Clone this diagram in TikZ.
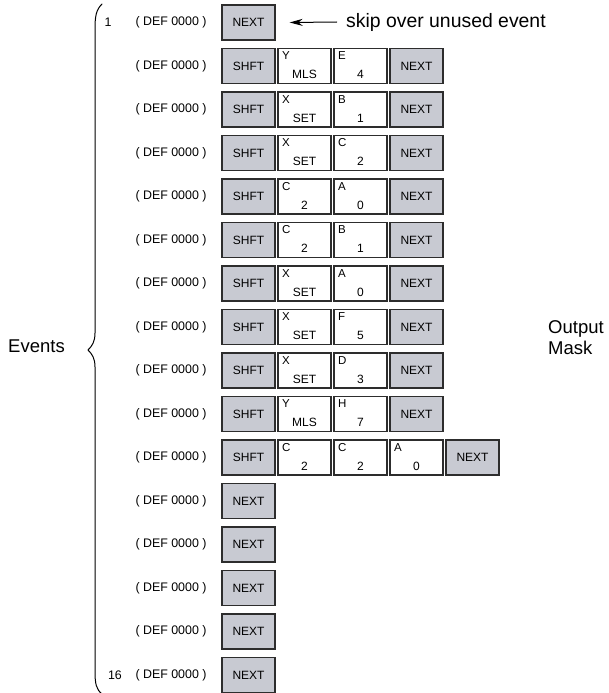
\documentclass[tikz,border=0pt]{standalone}
\usepackage{fontspec}
\setmainfont{Liberation Sans}
\usetikzlibrary{arrows.meta}
\definecolor{keygray}{RGB}{200,202,210}
\definecolor{edgegray}{RGB}{45,45,45}
\tikzset{
  keybox/.style={draw=edgegray, line width=1.3pt, fill=keygray, minimum width=53pt, minimum height=35pt, inner sep=0pt, font=\fontsize{12}{14}\selectfont},
  valbox/.style={draw=edgegray, line width=1.3pt, fill=white, minimum width=53pt, minimum height=35pt, inner sep=0pt},
  toplab/.style={anchor=west, inner sep=0pt, font=\fontsize{11.5}{13}\selectfont},
  botlab/.style={anchor=center, inner sep=0pt, font=\fontsize{12}{14}\selectfont},
  deftext/.style={inner sep=0pt, font=\fontsize{12.4}{14}\selectfont},
  numtext/.style={inner sep=0pt, font=\fontsize{12.4}{14}\selectfont},
  bigtext/.style={inner sep=0pt, font=\fontsize{18.5}{21}\selectfont},
}
\newcommand{\vkeybox}[5]{%
  \node[valbox] (#1) at (#2,#3) {};
  \node[toplab] (#1t) at ([xshift=4.5pt,yshift=-8pt]#1.north west) {#4};
  \node[botlab] (#1b) at ([yshift=9.5pt]#1.south) {#5};
}
\begin{document}
\begin{tikzpicture}[x=1pt,y=-1pt]
\useasboundingbox (0,0) rectangle (609,693);
% row y: 22.5 + 43.5*(i-1)
\foreach \i in {1,...,16}{
  \pgfmathsetmacro{\yy}{22.5+43.5*(\i-1)}
  \node[deftext] (def\i) at (171,\yy) {( DEF 0000 )};
}
\node[numtext] (n1) at (108,22.5) {1};
\node[numtext] (n16) at (115,675) {16};
% row 1
\node[keybox] (r1a) at (248.5,22.5) {NEXT};
% rows 2-10
\def\xa{248.5}\def\xb{304.5}\def\xc{360.5}\def\xd{416.5}\def\xe{472.5}
\node[keybox] (r2a) at (\xa,66) {SHFT}; \vkeybox{r2b}{\xb}{66}{Y}{MLS} \vkeybox{r2c}{\xc}{66}{E}{4} \node[keybox] (r2d) at (\xd,66) {NEXT};
\node[keybox] (r3a) at (\xa,109.5) {SHFT}; \vkeybox{r3b}{\xb}{109.5}{X}{SET} \vkeybox{r3c}{\xc}{109.5}{B}{1} \node[keybox] (r3d) at (\xd,109.5) {NEXT};
\node[keybox] (r4a) at (\xa,153) {SHFT}; \vkeybox{r4b}{\xb}{153}{X}{SET} \vkeybox{r4c}{\xc}{153}{C}{2} \node[keybox] (r4d) at (\xd,153) {NEXT};
\node[keybox] (r5a) at (\xa,196.5) {SHFT}; \vkeybox{r5b}{\xb}{196.5}{C}{2} \vkeybox{r5c}{\xc}{196.5}{A}{0} \node[keybox] (r5d) at (\xd,196.5) {NEXT};
\node[keybox] (r6a) at (\xa,240) {SHFT}; \vkeybox{r6b}{\xb}{240}{C}{2} \vkeybox{r6c}{\xc}{240}{B}{1} \node[keybox] (r6d) at (\xd,240) {NEXT};
\node[keybox] (r7a) at (\xa,283.5) {SHFT}; \vkeybox{r7b}{\xb}{283.5}{X}{SET} \vkeybox{r7c}{\xc}{283.5}{A}{0} \node[keybox] (r7d) at (\xd,283.5) {NEXT};
\node[keybox] (r8a) at (\xa,327) {SHFT}; \vkeybox{r8b}{\xb}{327}{X}{SET} \vkeybox{r8c}{\xc}{327}{F}{5} \node[keybox] (r8d) at (\xd,327) {NEXT};
\node[keybox] (r9a) at (\xa,370.5) {SHFT}; \vkeybox{r9b}{\xb}{370.5}{X}{SET} \vkeybox{r9c}{\xc}{370.5}{D}{3} \node[keybox] (r9d) at (\xd,370.5) {NEXT};
\node[keybox] (r10a) at (\xa,414) {SHFT}; \vkeybox{r10b}{\xb}{414}{Y}{MLS} \vkeybox{r10c}{\xc}{414}{H}{7} \node[keybox] (r10d) at (\xd,414) {NEXT};
% row 11
\node[keybox] (r11a) at (\xa,457.5) {SHFT}; \vkeybox{r11b}{\xb}{457.5}{C}{2} \vkeybox{r11c}{\xc}{457.5}{C}{2} \vkeybox{r11d}{\xd}{457.5}{A}{0} \node[keybox] (r11e) at (\xe,457.5) {NEXT};
% rows 12-16
\node[keybox] (r12a) at (\xa,501) {NEXT};
\node[keybox] (r13a) at (\xa,544.5) {NEXT};
\node[keybox] (r14a) at (\xa,588) {NEXT};
\node[keybox] (r15a) at (\xa,631.5) {NEXT};
\node[keybox] (r16a) at (\xa,675) {NEXT};
% arrow and note
\node[bigtext, anchor=west, font=\fontsize{19.4}{22}\selectfont] (skip) at (346,22) {skip over unused event};
\coordinate (arrtail) at (337,22);
\draw[line width=1pt, -{Stealth[length=13pt,width=7pt]}] (arrtail) -- ([xshift=14pt]r1a.east);
% brace
\draw[line width=1pt, line cap=round] (102,4) .. controls (96,10) and (95,16) .. (95,30)
  -- (95,333) .. controls (95,342) and (92,346) .. (88,350)
  .. controls (92,354) and (95,358) .. (95,367)
  -- (95,670) .. controls (95,684) and (96,689) .. (102,694);
\node[bigtext] (events) at (36.5,346) {Events};
\node[bigtext, anchor=north west, align=left] (mask) at (548,320) {Output\\Mask};
\end{tikzpicture}
\end{document}
